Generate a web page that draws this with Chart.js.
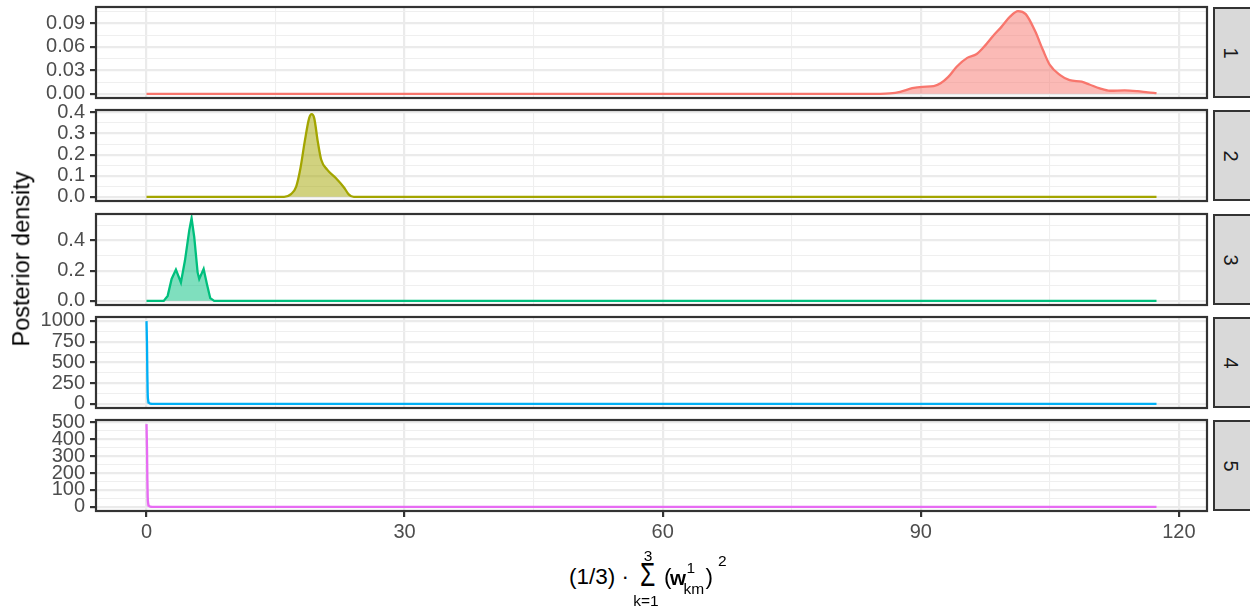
<!DOCTYPE html>
<html><head><meta charset="utf-8">
<script src="https://cdn.jsdelivr.net/npm/chart.js@4.4.0/dist/chart.umd.min.js"></script>
<style>
body{margin:0;background:#fff;width:1250px;height:609px;overflow:hidden;position:relative;font-family:"Liberation Sans",Arial,sans-serif;}
canvas{position:absolute;left:0;}
.strip{position:absolute;left:1213px;width:39px;background:#D9D9D9;border:2px solid #333;box-sizing:border-box;display:flex;align-items:center;justify-content:center;padding-right:3px;}
.strip span{display:block;transform:rotate(90deg);font-size:20px;color:#1A1A1A;line-height:1;}
.t{position:absolute;line-height:1;white-space:pre;color:#000;}
</style></head><body>
<script>
// ---------------- data ----------------
const panelLabels = ['1', '2', '3', '4', '5'];
const seriesColors = ['#F8766D', '#A3A500', '#00BF7D', '#00B0F6', '#E76BF3'];
const xTicks = [0, 30, 60, 90, 120];
const xTickLabels = ['0', '30', '60', '90', '120'];

const x1 = [0, 85.3, 86.4, 87.6, 89.0, 90.2, 91.5, 92.3, 93.2, 94.2, 95.4, 96.5, 97.5, 98.4, 99.4, 100.4, 101.3, 102.2, 103.3, 104.2, 105.0, 106.2, 107.3, 108.7, 109.6, 110.8, 112.0, 113.7, 115.2, 116.4, 117.4];
const y1 = [0, 0, 0.0005, 0.0026, 0.0072, 0.0090, 0.0098, 0.0135, 0.0217, 0.0350, 0.0460, 0.0510, 0.0620, 0.0740, 0.0860, 0.0990, 0.1058, 0.1020, 0.0800, 0.0560, 0.0370, 0.0240, 0.0175, 0.0155, 0.0120, 0.0070, 0.0040, 0.0045, 0.0035, 0.0020, 0.0010];

const x2 = [0, 16.0, 16.8, 17.4, 17.9, 18.4, 18.9, 19.2, 19.5, 19.9, 20.3, 21.0, 22.0, 23.0, 23.5, 24.1, 117.4];
const y2 = [0, 0, 0.013, 0.049, 0.137, 0.264, 0.372, 0.392, 0.372, 0.264, 0.177, 0.129, 0.089, 0.042, 0.012, 0, 0];

const x3 = [0, 2.0, 2.46, 2.92, 3.42, 4.0, 4.47, 4.97, 5.24, 5.55, 5.94, 6.13, 6.64, 7.02, 7.41, 7.87, 117.4];
const y3 = [0, 0, 0.033, 0.145, 0.207, 0.122, 0.267, 0.467, 0.548, 0.422, 0.189, 0.145, 0.211, 0.111, 0.018, 0, 0];

const x4 = [0, 0.06, 0.10, 0.14, 0.20, 0.30, 0.45, 0.70, 1.0, 117.4];
const y4 = [998, 700, 350, 120, 40, 12, 3, 0.5, 0, 0];

const x5 = [0, 0.06, 0.10, 0.14, 0.20, 0.30, 0.45, 0.70, 1.0, 117.4];
const y5 = [490, 340, 170, 60, 20, 6, 1.5, 0.3, 0, 0];

const yTicks1 = [0, 0.03, 0.06, 0.09];
const yTickLabels1 = ['0.00', '0.03', '0.06', '0.09'];
const yTicks2 = [0, 0.1, 0.2, 0.3, 0.4];
const yTickLabels2 = ['0.0', '0.1', '0.2', '0.3', '0.4'];
const yTicks3 = [0, 0.2, 0.4];
const yTickLabels3 = ['0.0', '0.2', '0.4'];
const yTicks4 = [0, 250, 500, 750, 1000];
const yTickLabels4 = ['0', '250', '500', '750', '1000'];
const yTicks5 = [0, 100, 200, 300, 400, 500];
const yTickLabels5 = ['0', '100', '200', '300', '400', '500'];

const seriesX = [x1, x2, x3, x4, x5];
const seriesY = [y1, y2, y3, y4, y5];
const yTicksAll = [yTicks1, yTicks2, yTicks3, yTicks4, yTicks5];
const yLabelsAll = [yTickLabels1, yTickLabels2, yTickLabels3, yTickLabels4, yTickLabels5];
const smoothModes = ['monotone', 'monotone', 'default', 'monotone', 'monotone'];

// ---------------- layout ----------------
const PANEL_LEFT = 96, PANEL_RIGHT = 1207, CANVAS_W = 1210;
const PANEL_TOPS = [7, 110, 214, 317, 420];
const PANEL_H = 91, PAD = 12, XAXIS_H = 44;
const FONT = '"Liberation Sans", Arial, sans-serif';
Chart.defaults.font.family = FONT;

function withMinors(majors, lo, hi) {
  const step = majors[1] - majors[0];
  const out = majors.map(v => ({ value: v, major: true }));
  for (let k = -1; k < majors.length; k++) {
    const m = (k < 0 ? majors[0] - step : majors[k]) + step / 2;
    if (m >= lo && m <= hi) out.push({ value: m, major: false });
  }
  return out.sort((a, b) => a.value - b.value);
}

const borderPlugin = {
  id: 'panelBorder',
  afterDraw(chart) {
    const a = chart.chartArea, c = chart.ctx;
    c.save();
    c.strokeStyle = '#333333';
    c.lineWidth = 2.2;
    c.strokeRect(a.left, a.top, a.right - a.left, a.bottom - a.top);
    c.restore();
  }
};

function hexA(hex, a) {
  const n = parseInt(hex.slice(1), 16);
  return `rgba(${n >> 16},${(n >> 8) & 255},${n & 255},${a})`;
}

const xData = seriesX.flat();
const xEnd = Math.max(...xData), xStart = Math.min(...xData);
const xMin = xStart - 0.05 * (xEnd - xStart), xMax = xEnd + 0.05 * (xEnd - xStart);

for (let i = 0; i < 5; i++) {
  const last = i === 4;
  const cv = document.createElement('canvas');
  const h = last ? PAD + PANEL_H + XAXIS_H : PAD * 2 + PANEL_H;
  cv.width = CANVAS_W; cv.height = h;
  cv.style.top = (PANEL_TOPS[i] - PAD) + 'px';
  cv.style.width = CANVAS_W + 'px'; cv.style.height = h + 'px';
  document.body.appendChild(cv);

  const ys = seriesY[i];
  const maxY = Math.max(...ys), minY = Math.min(...ys);
  const yMin = minY - 0.05 * (maxY - minY), yMax = maxY + 0.05 * (maxY - minY);
  const yt = withMinors(yTicksAll[i], yMin, yMax);
  const xt = withMinors(xTicks, xMin, xMax);
  const yLab = yLabelsAll[i];
  const isMajY = v => yTicksAll[i].some(m => Math.abs(m - v) < 1e-9);

  new Chart(cv, {
    type: 'line',
    data: {
      datasets: [{
        data: seriesX[i].map((x, k) => ({ x: x, y: ys[k] })),
        borderColor: seriesColors[i],
        backgroundColor: hexA(seriesColors[i], 0.5),
        fill: 'origin',
        borderWidth: 2.3,
        pointRadius: 0,
        cubicInterpolationMode: smoothModes[i],
        tension: 0
      }]
    },
    options: {
      responsive: false, animation: false, devicePixelRatio: 1,
      layout: { padding: { top: PAD, bottom: last ? 0 : PAD, left: 0, right: CANVAS_W - PANEL_RIGHT } },
      plugins: { legend: { display: false }, tooltip: { enabled: false } },
      scales: {
        x: {
          type: 'linear', min: xMin, max: xMax,
          afterBuildTicks: s => { s.ticks = xt.map(t => ({ value: t.value })); },
          afterFit: s => { s.height = last ? XAXIS_H : 0; s.paddingLeft = 0; s.paddingRight = 0; s.paddingTop = 0; s.paddingBottom = 0; },
          ticks: {
            display: last, autoSkip: false, maxRotation: 0,
            font: { size: 20 }, color: '#4D4D4D', padding: 3,
            callback: (v) => { const k = xTicks.indexOf(v); return k >= 0 ? xTickLabels[k] : ''; }
          },
          grid: {
            drawTicks: last, tickLength: 6,
            color: c => (c.tick && xTicks.includes(c.tick.value)) ? '#EBEBEB' : '#EFEFEF',
            lineWidth: c => (c.tick && xTicks.includes(c.tick.value)) ? 2.2 : 1.1,
            tickColor: c => (c.tick && xTicks.includes(c.tick.value)) ? '#333333' : 'rgba(0,0,0,0)',
            tickWidth: 2.2
          },
          border: { display: false }
        },
        y: {
          type: 'linear', min: yMin, max: yMax,
          afterBuildTicks: s => { s.ticks = yt.map(t => ({ value: t.value })); },
          afterFit: s => { s.width = PANEL_LEFT; s.paddingTop = 0; s.paddingBottom = 0; s.paddingLeft = 0; s.paddingRight = 0; },
          ticks: {
            autoSkip: false, font: { size: 20 }, color: '#4D4D4D', padding: 5,
            callback: (v) => {
              const k = yTicksAll[i].findIndex(m => Math.abs(m - v) < 1e-9);
              return k >= 0 ? yLab[k] : '';
            }
          },
          grid: {
            drawTicks: true, tickLength: 6,
            color: c => (c.tick && isMajY(c.tick.value)) ? '#EBEBEB' : '#EFEFEF',
            lineWidth: c => (c.tick && isMajY(c.tick.value)) ? 2.2 : 1.1,
            tickColor: c => (c.tick && isMajY(c.tick.value)) ? '#333333' : 'rgba(0,0,0,0)',
            tickWidth: 2.2
          },
          border: { display: false }
        }
      }
    },
    plugins: [borderPlugin]
  });

  const st = document.createElement('div');
  st.className = 'strip';
  st.style.top = PANEL_TOPS[i] + 'px';
  st.style.height = PANEL_H + 'px';
  const sp = document.createElement('span');
  sp.textContent = panelLabels[i];
  st.appendChild(sp);
  document.body.appendChild(st);
}

// ---------------- axis titles ----------------
function txt(s, left, baseline, size, extra) {
  const d = document.createElement('div');
  d.className = 't';
  d.textContent = s;
  d.style.fontSize = size + 'px';
  d.style.left = left + 'px';
  d.style.top = (baseline - 0.8465 * size) + 'px';
  if (extra) Object.assign(d.style, extra);
  document.body.appendChild(d);
  return d;
}
const yTitle = document.createElement('div');
yTitle.className = 't';
yTitle.textContent = 'Posterior density';
Object.assign(yTitle.style, { fontSize: '23.5px', left: '22px', top: '259px', transform: 'translate(-50%,-50%) rotate(-90deg)' });
document.body.appendChild(yTitle);

txt('(1/3) \u00B7', 569, 585, 22.5);
txt('\u03A3', 640, 586, 33, { transform: 'scaleX(0.75)', transformOrigin: 'left' });
txt('3', 648, 561, 15.5, { transform: 'translateX(-50%)' });
txt('k=1', 646, 606, 15.5, { transform: 'translateX(-50%)' });
txt('(', 664, 585, 22.5);
txt('w', 670, 585, 20.5, { fontWeight: 'bold' });
txt('1', 686.5, 573, 15.5);
txt('km', 683.5, 594, 15.5);
txt(')', 705.5, 585, 22.5);
txt('2', 718, 566, 15.5);
</script>
</body></html>
